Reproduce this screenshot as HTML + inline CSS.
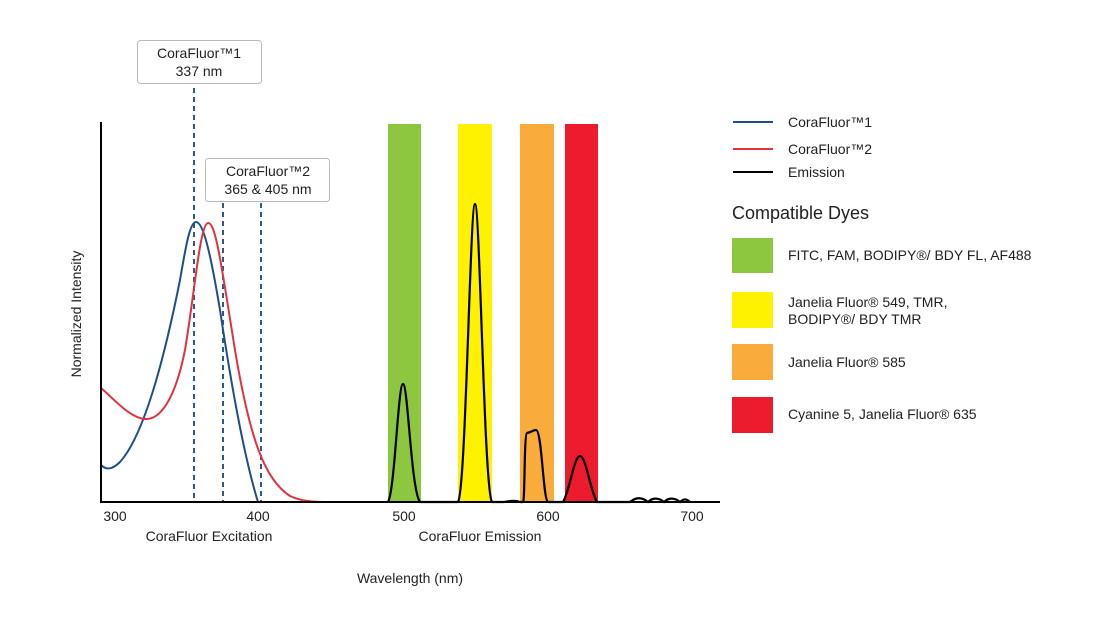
<!DOCTYPE html>
<html><head><style>
body{margin:0;background:#fff;}
svg text{font-family:"Liberation Sans",sans-serif;fill:#222;}
</style></head><body>
<svg width="1110" height="612" viewBox="0 0 1110 612" xmlns="http://www.w3.org/2000/svg">
<rect width="1110" height="612" fill="#fff"/>
<rect x="388" y="124" width="33" height="378" fill="#8dc63f"/>
<rect x="458" y="124" width="34" height="378" fill="#fff200"/>
<rect x="520" y="124" width="34" height="378" fill="#f9ab3b"/>
<rect x="565" y="124" width="33" height="378" fill="#ec1c2e"/>
<g stroke="#2b5a8c" stroke-width="2" stroke-dasharray="5,4">
<line x1="194" y1="88" x2="194" y2="502"/>
<line x1="223" y1="203" x2="223" y2="502"/>
<line x1="261" y1="203" x2="261" y2="502"/>
</g>
<rect x="137.5" y="40.5" width="124" height="43" rx="3" fill="#fff" stroke="#bbb"/>
<text x="199" y="58" font-size="14" text-anchor="middle">CoraFluor™1</text>
<text x="199" y="76" font-size="14" text-anchor="middle">337 nm</text>
<rect x="205.5" y="158.5" width="124" height="43" rx="3" fill="#fff" stroke="#bbb"/>
<text x="268" y="176" font-size="14" text-anchor="middle">CoraFluor™2</text>
<text x="268" y="194" font-size="14" text-anchor="middle">365 &amp; 405 nm</text>
<path d="M101,465 C106,470 112,470 120,462 C140,440 160,380 180,280 C186,245 190,222 196,222 C203,222 210,250 220,310 C232,390 245,460 258,502" fill="none" stroke="#1f4e8c" stroke-width="2"/>
<path d="M101,388 C115,400 130,418 145,419 C160,420 175,400 185,350 C195,290 200,224 208,223 C216,222 222,270 235,350 C250,440 265,480 290,496 C305,503 320,502 345,502" fill="none" stroke="#e0333f" stroke-width="2"/>
<path d="M388,502 C395,490 398,384 403,384 C408,384 411,490 420,502 L458,502 C466,490 470,204 475,204 C480,204 484,490 492,502 L504,502 C510,501 515,500 520,502 L523,502 C525,502 524,434 527,433 C532,432 533,430 536,430 C542,430 543,500 548,502 L563,502 C570,490 574,456 580,456 C586,456 590,490 597,502 L630,502 C636,497 642,497 648,502 C652,498 658,497 664,502 C668,498 674,497 680,502 C683,499 686,498 690,502" fill="none" stroke="#000" stroke-width="2.2"/>
<line x1="101" y1="122" x2="101" y2="503" stroke="#000" stroke-width="2"/>
<line x1="100" y1="502" x2="720" y2="502" stroke="#000" stroke-width="2"/>
<g font-size="14" text-anchor="middle">
<text x="115" y="521">300</text><text x="258" y="521">400</text><text x="404" y="521">500</text><text x="548" y="521">600</text><text x="692" y="521">700</text>
<text x="209" y="541">CoraFluor Excitation</text>
<text x="480" y="541">CoraFluor Emission</text>
<text x="410" y="583">Wavelength (nm)</text>
<text transform="translate(81,314) rotate(-90)">Normalized Intensity</text>
</g>
<line x1="733" y1="122" x2="773" y2="122" stroke="#1f4e8c" stroke-width="2"/>
<line x1="733" y1="149" x2="773" y2="149" stroke="#e0333f" stroke-width="2"/>
<line x1="733" y1="172" x2="773" y2="172" stroke="#000" stroke-width="2"/>
<g font-size="14">
<text x="788" y="127">CoraFluor™1</text>
<text x="788" y="154">CoraFluor™2</text>
<text x="788" y="177">Emission</text>
<text x="732" y="219" font-size="18">Compatible Dyes</text>
<rect x="732" y="238" width="41" height="35" fill="#8dc63f"/>
<rect x="732" y="292" width="41" height="36" fill="#fff200"/>
<rect x="732" y="344" width="41" height="36" fill="#f9ab3b"/>
<rect x="732" y="397" width="41" height="36" fill="#ec1c2e"/>
<text x="788" y="260">FITC, FAM, BODIPY®/ BDY FL, AF488</text>
<text x="788" y="307">Janelia Fluor® 549, TMR,</text>
<text x="788" y="324">BODIPY®/ BDY TMR</text>
<text x="788" y="367">Janelia Fluor® 585</text>
<text x="788" y="419">Cyanine 5, Janelia Fluor® 635</text>
</g>
</svg>
</body></html>
